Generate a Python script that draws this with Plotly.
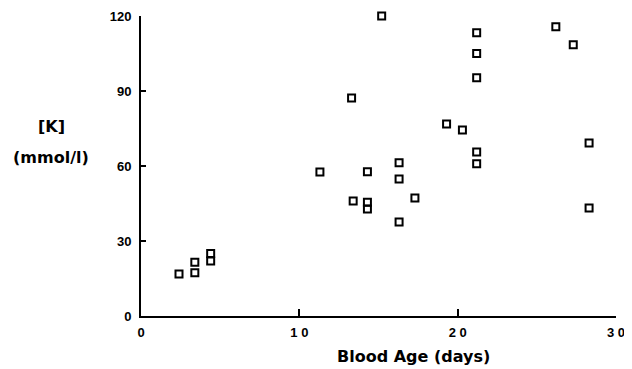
import plotly.graph_objects as go

blood_age_days = [2.4, 3.4, 3.4, 4.4, 4.4, 11.3, 13.3, 13.4, 14.3, 14.3, 14.3,
                  15.2, 16.3, 16.3, 16.3, 17.3, 19.3, 20.3, 21.2, 21.2, 21.2,
                  21.2, 21.2, 26.2, 27.3, 28.3, 28.3]
potassium_mmol = [16.8, 17.3, 21.5, 22.0, 25.0, 57.6, 87.2, 46.0, 57.7, 45.5, 42.8,
                  120.0, 61.3, 54.8, 37.6, 47.2, 76.8, 74.4, 113.3, 105.0, 95.3,
                  65.6, 60.9, 115.7, 108.5, 69.2, 43.2]
x_ticks = [0, 10, 20, 30]
x_tick_labels = ["0", "1 0", "2 0", "3 0"]
y_ticks = [0, 30, 60, 90, 120]
y_tick_labels = ["0", "30", "60", "90", "120"]

font_family = "Liberation Sans, Arial, sans-serif"
label_family = "DejaVu Sans, sans-serif"

fig = go.Figure()
fig.add_trace(go.Scatter(
    x=blood_age_days, y=potassium_mmol, mode="markers",
    marker=dict(symbol="square-open", size=7, color="black",
                line=dict(color="black", width=2)),
    showlegend=False, cliponaxis=False,
))

fig.update_layout(
    width=624, height=361,
    margin=dict(l=133, r=16, t=8, b=53),
    paper_bgcolor="white", plot_bgcolor="white",
    font=dict(family=font_family, color="black", size=12),
    xaxis=dict(
        range=[0, 30], tickvals=x_ticks, ticktext=x_tick_labels,
        ticks="inside", ticklen=7, tickwidth=2, tickcolor="black",
        showline=True, linewidth=2, linecolor="black", showgrid=False,
        zeroline=False, ticklabelstandoff=3, automargin=False,
        tickfont=dict(size=13, family=font_family, weight="bold"),
    ),
    yaxis=dict(
        range=[0, 120], tickvals=y_ticks, ticktext=y_tick_labels,
        ticks="inside", ticklen=5, tickwidth=2, tickcolor="black",
        showline=True, linewidth=2, linecolor="black", showgrid=False,
        zeroline=False, ticklabelstandoff=5, automargin=False,
        tickfont=dict(size=13, family=font_family, weight="bold"),
    ),
    annotations=[
        dict(text="Blood Age (days)", xref="paper", yref="paper",
             x=(413 - 141) / 475, y=-(356 - 316) / 300,
             showarrow=False, xanchor="center", yanchor="middle",
             font=dict(size=16, family=label_family, weight="bold")),
        dict(text="[K]", xref="paper", yref="paper", x=-0.189, y=0.633,
             showarrow=False, xanchor="center", yanchor="middle",
             font=dict(size=16, family=label_family, weight="bold")),
        dict(text="(mmol/l)", xref="paper", yref="paper", x=-0.189, y=0.53,
             showarrow=False, xanchor="center", yanchor="middle",
             font=dict(size=16, family=label_family, weight="bold")),
    ],
)

fig.write_html("out.html")
